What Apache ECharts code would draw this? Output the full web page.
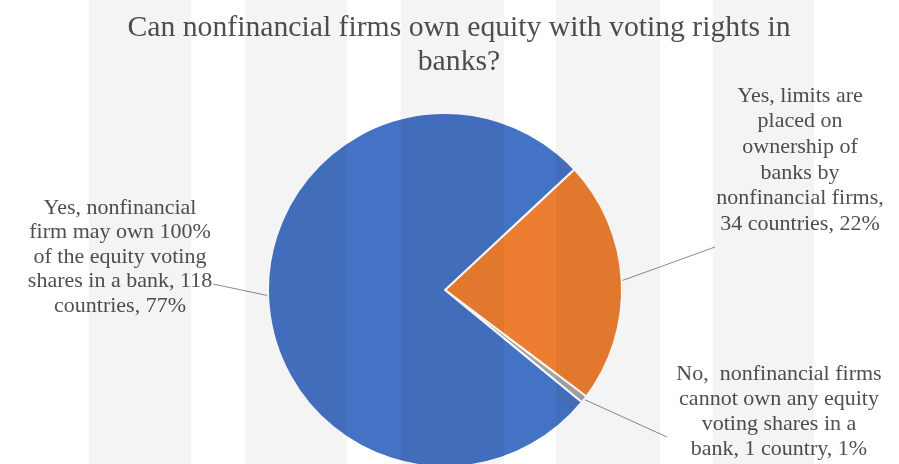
<!DOCTYPE html>
<html>
<head>
<meta charset="utf-8">
<script src="https://cdn.jsdelivr.net/npm/echarts@6/dist/echarts.min.js"></script>
<style>
html,body{margin:0;padding:0;background:#fff;}
#chart{width:899px;height:464px;}
</style>
</head>
<body>
<div id="chart"></div>
<script>
// Data
const titleText = 'Can nonfinancial firms own equity with voting rights in\nbanks?';
const categories = [
  'Yes, limits are placed on ownership of banks by nonfinancial firms',
  'No,  nonfinancial firms cannot own any equity voting shares in a bank',
  'Yes, nonfinancial firm may own 100% of the equity voting shares in a bank'
];
const countries = [34, 1, 118];
const percentLabels = ['22%', '1%', '77%'];
const labelLines = [
  ['Yes, limits are', 'placed on', 'ownership of', 'banks by', 'nonfinancial firms,', '34 countries, 22%'],
  ['No,  nonfinancial firms', 'cannot own any equity', 'voting shares in a', 'bank, 1 country, 1%'],
  ['Yes, nonfinancial', 'firm may own 100%', 'of the equity voting', 'shares in a bank, 118', 'countries, 77%']
];
const colors = ['#ED7D31', '#A5A5A5', '#4472C4'];

// Decorative background stripes (photo artifact)
const stripes = [[89,191],[245,347],[401,504],[556,660],[713,814]];

const chart = echarts.init(document.getElementById('chart'), null, {renderer: 'canvas'});
// label placement (style/layout, not data)
const labelPos = [
  {x: 800, y: 160, lh: 25.6, ex: -85, ey: 87},
  {x: 779, y: 412, lh: 25, ex: -112, ey: 25},
  {x: 120, y: 257, lh: 24.4, ex: 93, ey: 27}
];
chart.setOption({
  animation: false,
  backgroundColor: '#ffffff',
  title: {
    text: titleText,
    left: 454,
    top: 6,
    textAlign: 'center',
    textStyle: {
      fontFamily: 'Liberation Serif',
      fontSize: 29.7,
      fontWeight: 'normal',
      color: '#505050',
      lineHeight: 34
    }
  },
  graphic: stripes.map(s => ({
    type: 'rect',
    silent: true,
    z: 100,
    shape: {x: s[0], y: 0, width: s[1] - s[0], height: 464},
    style: {fill: 'rgba(0,0,0,0.045)'}
  })),
  series: [{
    type: 'pie',
    center: [445, 290],
    radius: 177,
    startAngle: 43,
    clockwise: true,
    avoidLabelOverlap: false,
    itemStyle: {borderColor: '#ffffff', borderWidth: 2},
    label: {
      show: true,
      position: 'outside',
      fontFamily: 'Liberation Serif',
      fontSize: 22,
      lineHeight: 25,
      color: '#505050',
      align: 'center',
      formatter: p => labelLines[p.dataIndex].join('\n')
    },
    labelLine: {
      show: true,
      length: 20,
      length2: 10,
      lineStyle: {color: '#8c8c8c', width: 1}
    },
    labelLayout: p => {
      const L = labelPos[p.dataIndex];
      const start = p.labelLinePoints ? p.labelLinePoints[0] : null;
      const res = {x: L.x, y: L.y, align: 'center', verticalAlign: 'middle'};
      if (start) res.labelLinePoints = [[start[0], start[1]], [L.x + L.ex, L.y + L.ey]];
      return res;
    },
    data: categories.map((c, i) => ({
      name: c,
      value: countries[i],
      itemStyle: {color: colors[i]},
      label: {lineHeight: labelPos[i].lh}
    }))
  }]
});
</script>
</body>
</html>
